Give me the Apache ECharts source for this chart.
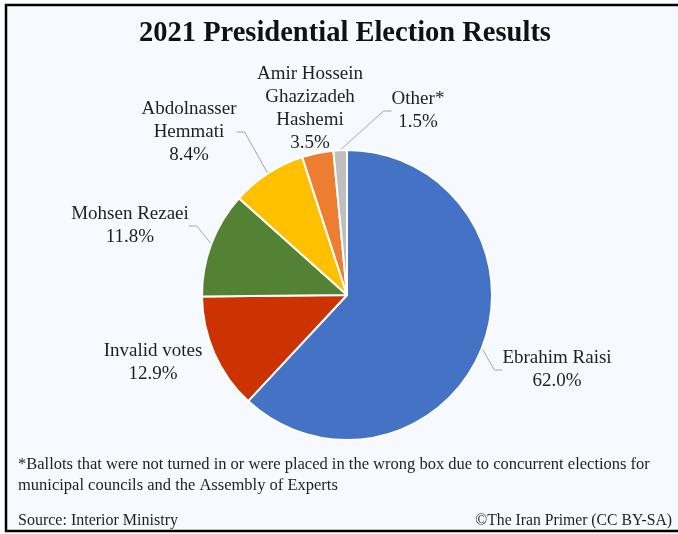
<!DOCTYPE html>
<html>
<head>
<meta charset="utf-8">
<script src="https://cdn.jsdelivr.net/npm/echarts@6/dist/echarts.min.js"></script>
<style>
  html, body { margin: 0; padding: 0; background: #ffffff; }
  #chart { width: 678px; height: 534px; }
</style>
</head>
<body>
<div id="chart"></div>
<script>
// Vote shares, clockwise from 12 o'clock
const candidates = [
  'Ebrahim Raisi',
  'Invalid votes',
  'Mohsen Rezaei',
  'Abdolnasser\nHemmati',
  'Amir Hossein\nGhazizadeh\nHashemi',
  'Other*'
];
const shares = [62.0, 12.9, 11.8, 8.4, 3.5, 1.5];
const sliceColors = ['#4472C4', '#CC3300', '#548235', '#FFC000', '#ED7D31', '#BFBFBF'];

// Where each label block is centred, and whether it gets a leader line
const labelSpots = [
  [557, 370], [153, 363], [130, 226], [189, 132], [310, 109], [418, 111]
];
const showLeader = [true, false, true, true, false, true];

const serif = '"Liberation Serif", "DejaVu Serif", serif';
const ink = '#1f1f1f';
const noteFont = '16.5px ' + serif;

const chart = echarts.init(document.getElementById('chart'), null, { renderer: 'canvas' });

chart.setOption({
  backgroundColor: '#ffffff',
  animation: false,
  graphic: [
    {
      type: 'rect', z: -10,
      shape: { x: 6, y: 5, width: 690, height: 526 },
      style: { fill: '#f6f9fd', stroke: '#000000', lineWidth: 2.5 }
    },
    {
      type: 'text', x: 345, y: 34,
      style: {
        text: '2021 Presidential Election Results',
        font: 'bold 28.5px ' + serif, fill: '#111111',
        textAlign: 'center', textVerticalAlign: 'middle'
      }
    },
    {
      type: 'text', x: 18, y: 465,
      style: {
        text: '*Ballots that were not turned in or were placed in the wrong box due to concurrent elections for',
        font: noteFont, fill: ink, textVerticalAlign: 'middle'
      }
    },
    {
      type: 'text', x: 18, y: 486,
      style: {
        text: 'municipal councils and the Assembly of Experts',
        font: noteFont, fill: ink, textVerticalAlign: 'middle'
      }
    },
    {
      type: 'text', x: 18, y: 521,
      style: {
        text: 'Source: Interior Ministry',
        font: '16px ' + serif, fill: ink, textVerticalAlign: 'middle'
      }
    },
    {
      type: 'text', x: 672, y: 521,
      style: {
        text: '\u00A9The Iran Primer (CC BY-SA)',
        font: '15.7px ' + serif, fill: ink, textAlign: 'right', textVerticalAlign: 'middle'
      }
    }
  ],
  series: [{
    type: 'pie',
    center: [347, 295],
    radius: 145,
    startAngle: 90,
    clockwise: true,
    avoidLabelOverlap: false,
    itemStyle: { borderColor: '#ffffff', borderWidth: 2 },
    label: {
      show: true,
      position: 'outside',
      formatter: p => p.name + '\n' + p.value.toFixed(1) + '%',
      fontFamily: serif,
      fontSize: 19,
      lineHeight: 23,
      color: ink,
      align: 'center'
    },
    labelLine: {
      show: true,
      length: 10,
      length2: 8,
      lineStyle: { color: '#a6a6a6', width: 1 }
    },
    labelLayout: params => ({
      x: labelSpots[params.dataIndex][0],
      y: labelSpots[params.dataIndex][1],
      align: 'center',
      verticalAlign: 'middle'
    }),
    emphasis: { disabled: true },
    data: candidates.map((name, i) => ({
      name: name,
      value: shares[i],
      itemStyle: { color: sliceColors[i] },
      labelLine: { show: showLeader[i] }
    }))
  }]
});
</script>
</body>
</html>
